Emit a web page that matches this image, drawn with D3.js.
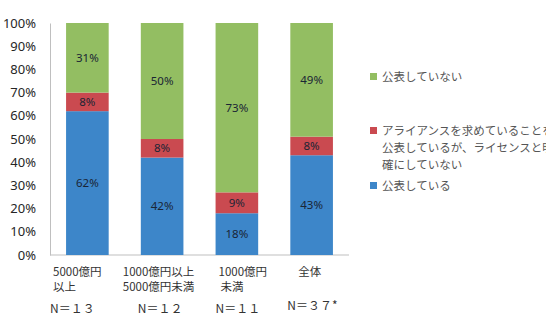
<!DOCTYPE html>
<html><head><meta charset="utf-8">
<script src="https://cdn.jsdelivr.net/npm/d3@7"></script>
<style>body{margin:0;background:#fff;overflow:hidden}svg{display:block;font-family:"Noto Sans CJK JP","Noto Sans",sans-serif}</style>
</head><body><svg id="c" width="546" height="317"></svg>
<script>
const categories = ["5000億円\n以上", "1000億円以上\n5000億円未満", "1000億円\n未満", "全体"];
const nLabels = ["N＝１３", "N＝１２", "N＝１１", "N＝３７*"];
const published = [62, 42, 18, 43];
const allianceOnly = [8, 8, 9, 8];
const notPublished = [31, 50, 73, 49];
const seriesNames = ["公表している", "アライアンスを求めていることを\n公表しているが、ライセンスと明\n確にしていない", "公表していない"];
const yTicks = [0, 10, 20, 30, 40, 50, 60, 70, 80, 90, 100];

const colors = ["#3D86C9", "#CA4A50", "#93BE62"];
const svg = d3.select("#c");
const x = d3.scaleBand().domain(categories).range([50, 349]).paddingInner(0.43).paddingOuter(0.215);
const y = d3.scaleLinear().domain([0, 100]).range([255, 23]);

// y axis labels
const yAxis = d3.axisLeft(y).tickValues(yTicks).tickFormat(d => d + "%").tickSize(0).tickPadding(14);
const ga = svg.append("g").attr("transform", "translate(50,0)").call(yAxis);
ga.select(".domain").attr("stroke", "#bfbfbf");
ga.selectAll("text").attr("font-size", 13).attr("fill", "#262626").attr("font-family", "'Noto Sans','DejaVu Sans',sans-serif");
svg.append("line").attr("x1", 50).attr("x2", 349).attr("y1", y(0)).attr("y2", y(0)).attr("stroke", "#bfbfbf");

const series = [published, allianceOnly, notPublished];
categories.forEach((c, i) => {
  let acc = 0;
  series.forEach((s, k) => {
    const v = s[i];
    const y0 = acc, y1 = Math.min(100, acc + v);
    svg.append("rect").attr("x", x(c)).attr("width", x.bandwidth())
      .attr("y", y(y1)).attr("height", y(y0) - y(y1)).attr("fill", colors[k]);
    svg.append("text").attr("x", x(c) + x.bandwidth() / 2).attr("y", (y(y0) + y(y1)) / 2 + 4)
      .attr("text-anchor", "middle").attr("font-size", 11.5).attr("fill", "#1a2535")
      .attr("font-family", "'Noto Sans','DejaVu Sans',sans-serif").text(v + "%");
    acc += v;
  });
});

// category labels
const labOffsets = [-13, -18, 3, 8];
categories.forEach((c, i) => {
  const t = svg.append("text").attr("font-size", 11.5).attr("fill", "#333");
  c.split("\n").forEach((line, j) => {
    t.append("tspan").attr("x", x(c) + labOffsets[i] + (j === 1 && i === 2 ? 2 : 0)).attr("y", 276 + j * 15).text(line);
  });
  svg.append("text").attr("x", x(c) + labOffsets[i] + (i === 3 ? -11 : (i === 1 ? 15 : -3)))
    .attr("y", i === 3 ? 310 : 313).attr("font-size", 12).attr("fill", "#333").text(nLabels[i]);
});

// legend
const legendY = [186, 131, 77];
seriesNames.forEach((n, k) => {
  svg.append("rect").attr("x", 370).attr("y", legendY[k] - 4).attr("width", 7).attr("height", 7).attr("fill", colors[k]);
  const t = svg.append("text").attr("font-size", 11.5).attr("fill", "#555");
  n.split("\n").forEach((line, j) => {
    t.append("tspan").attr("x", 382).attr("y", legendY[k] + 4 + j * 17).text(line);
  });
});
</script></body></html>
